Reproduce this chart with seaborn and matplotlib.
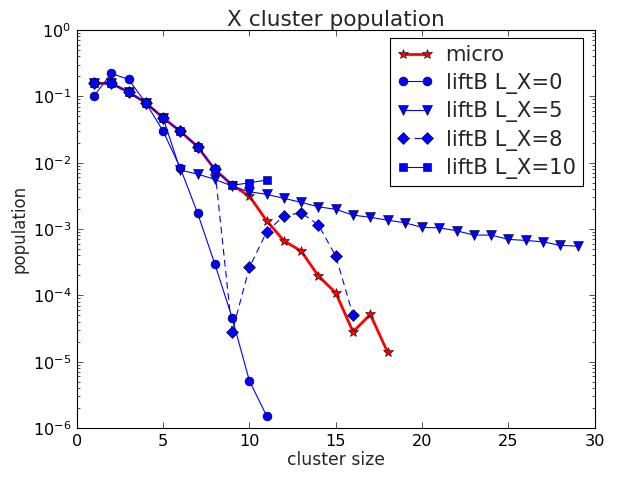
import numpy as np
import pandas as pd
import matplotlib
matplotlib.use("Agg")
import matplotlib.pyplot as plt
import seaborn as sns

# cluster sizes
size_micro = list(range(1, 19))
size_lx0 = list(range(1, 12))
size_lx5 = list(range(1, 30))
size_lx8 = list(range(1, 17))
size_lx10 = list(range(1, 12))

# population per cluster size
pop_micro = [0.157, 0.157, 0.116, 0.080, 0.0475, 0.0297, 0.0174, 0.0079, 0.0046,
             0.00313, 0.00133, 0.000664, 0.000464, 0.000195, 0.000109, 2.81e-5,
             5.15e-5, 1.39e-5]
pop_lx0 = [0.101, 0.222, 0.180, 0.080, 0.030, 0.0083, 0.00173, 0.000296, 4.58e-5,
           5.13e-6, 1.52e-6]
pop_lx5 = [0.157, 0.157, 0.116, 0.080, 0.0475, 0.00773, 0.00673, 0.0056, 0.00444,
           0.00364, 0.00333, 0.0029, 0.00252, 0.00216, 0.00198, 0.00162, 0.0015,
           0.00136, 0.00124, 0.00106, 0.00104, 0.00094, 0.00081, 0.00081,
           0.000697, 0.000673, 0.000641, 0.000566, 0.000552]
pop_lx8 = [0.157, 0.157, 0.116, 0.080, 0.0475, 0.0297, 0.0174, 0.0079, 2.81e-5,
           0.000264, 0.000907, 0.00158, 0.00176, 0.00115, 0.00039, 5.03e-5]
pop_lx10 = [0.157, 0.157, 0.116, 0.080, 0.0475, 0.0297, 0.0174, 0.0079, 0.00455,
            0.00498, 0.00547]

labels = ["micro", "liftB L_X=0", "liftB L_X=5", "liftB L_X=8", "liftB L_X=10"]

sns.set_style("ticks")
plt.rcParams.update({
    "font.family": ["DejaVu Sans"],
    "font.size": 14.5,
    "xtick.direction": "in",
    "ytick.direction": "in",
    "xtick.top": True,
    "ytick.right": True,
    "xtick.major.size": 5,
    "ytick.major.size": 5,
    "ytick.minor.size": 2.5,
    "xtick.major.width": 0.6,
    "ytick.major.width": 0.6,
    "ytick.minor.width": 0.6,
    "xtick.major.pad": 5,
    "ytick.major.pad": 5,
    "axes.linewidth": 1.0,
    "axes.edgecolor": "black",
    "xtick.color": "black",
    "ytick.color": "black",
    "mathtext.default": "regular",
})

fig = plt.figure(figsize=(621 / 80, 477 / 80), dpi=80)
ax = fig.add_axes([76.7 / 621, 1 - 428 / 477, (594.8 - 76.7) / 621, (428 - 30) / 477])

frames = {
    labels[0]: (size_micro, pop_micro),
    labels[1]: (size_lx0, pop_lx0),
    labels[2]: (size_lx5, pop_lx5),
    labels[3]: (size_lx8, pop_lx8),
    labels[4]: (size_lx10, pop_lx10),
}
styles = {
    labels[0]: dict(color="red", marker="*", lw=2.5, ms=9, dash=None),
    labels[1]: dict(color="blue", marker="o", lw=1, ms=8, dash=None),
    labels[2]: dict(color="blue", marker="v", lw=1, ms=9, dash=None),
    labels[3]: dict(color="blue", marker="D", lw=1, ms=8, dash=(6, 4)),
    labels[4]: dict(color="blue", marker="s", lw=1, ms=8, dash=None),
}

for name in labels:
    xs, ys = frames[name]
    df = pd.DataFrame({"cluster size": xs, "population": ys})
    st = styles[name]
    n_before = len(ax.lines)
    sns.lineplot(data=df, x="cluster size", y="population", ax=ax,
                 color=st["color"], marker=st["marker"], linewidth=st["lw"],
                 markersize=st["ms"], markeredgecolor="black",
                 markeredgewidth=0.5, label=name, estimator=None, sort=False)
    if st["dash"] is not None:
        for line in ax.lines[n_before:]:
            line.set_dashes(st["dash"])

ax.set_yscale("log")
ax.set_xlim(0, 30)
ax.set_ylim(1e-6, 1)
ax.set_xticks([0, 5, 10, 15, 20, 25, 30])
ax.tick_params(labelsize=14.5)
ax.set_title("X cluster population", fontsize=19.5, pad=4)
ax.set_xlabel("cluster size", fontsize=15.5, labelpad=2)
ax.set_ylabel("population", fontsize=15, labelpad=4)

leg = ax.legend(loc="upper right", bbox_to_anchor=(0.9772, 0.9799),
                borderaxespad=0, fontsize=19, numpoints=2, fancybox=False,
                framealpha=1, edgecolor="black", handlelength=1.7,
                handletextpad=0.6, labelspacing=0.35, borderpad=0.35)
leg.get_frame().set_linewidth(1.0)

fig.savefig("out.png", dpi=80)
